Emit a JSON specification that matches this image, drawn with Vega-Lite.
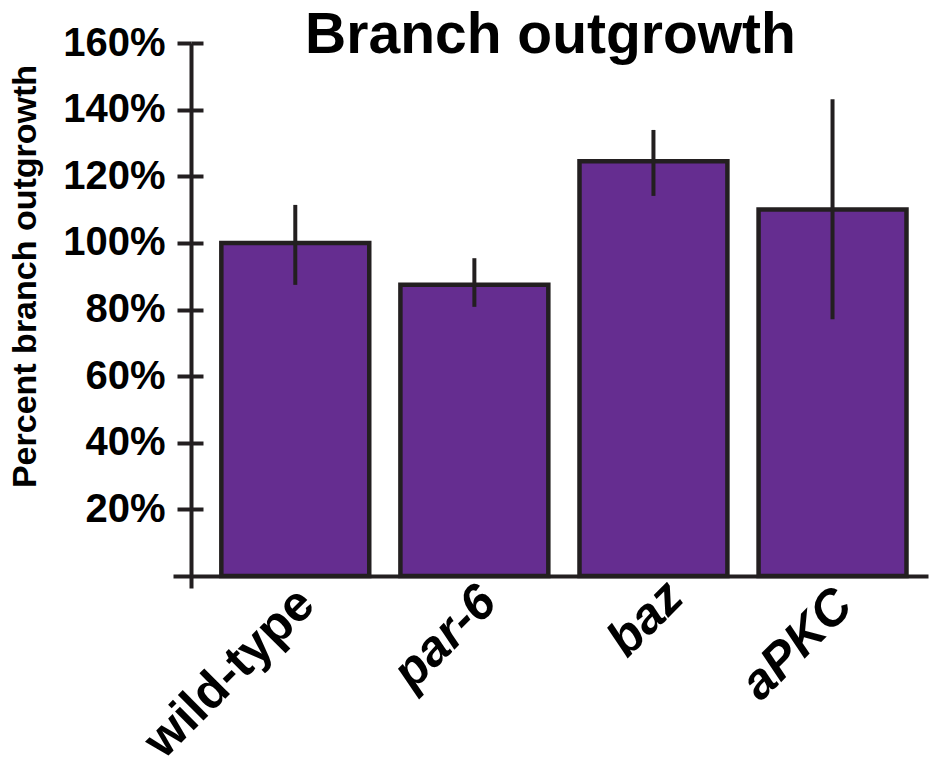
{
  "$schema": "https://vega.github.io/schema/vega-lite/v6.json",
  "autosize": {"type": "none"},
  "width": 755,
  "height": 545,
  "padding": {"left": 173, "top": 43, "right": 1, "bottom": 180},
  "background": "white",
  "title": {
    "text": "Branch outgrowth",
    "font": "Liberation Sans",
    "fontSize": 57,
    "fontWeight": "bold",
    "color": "#000000",
    "anchor": "middle",
    "frame": "group",
    "offset": -42
  },
  "data": {
    "values": [
      {"genotype": "wild-type", "mean": 100, "lo": 87.4, "hi": 111.4},
      {"genotype": "par-6", "mean": 87.4, "lo": 80.8, "hi": 95.4},
      {"genotype": "baz", "mean": 124.5, "lo": 114.1, "hi": 133.9},
      {"genotype": "aPKC", "mean": 110.0, "lo": 77.1, "hi": 143.1}
    ]
  },
  "config": {"view": {"stroke": null}},
  "layer": [
    {
      "mark": {"type": "bar", "fill": "#652d90", "stroke": "#231f20", "strokeWidth": 4.5},
      "encoding": {
        "x": {
          "field": "genotype",
          "type": "nominal",
          "sort": null,
          "scale": {"paddingInner": 0.174, "paddingOuter": 0.195, "align": 0.692},
          "axis": {
            "title": null,
            "orient": "bottom",
            "offset": -12,
            "domain": true,
            "domainColor": "#231f20",
            "domainWidth": 4,
            "ticks": false,
            "tickSize": 0,
            "labelAngle": -45,
            "labelAlign": "right",
            "labelBaseline": "middle",
            "labelFont": "Liberation Sans",
            "labelFontSize": 50,
            "labelFontWeight": "bold",
            "labelFontStyle": {"expr": "datum.value == 'wild-type' ? 'normal' : 'italic'"},
            "labelColor": "#000000",
            "labelPadding": {"expr": "datum.value == 'wild-type' ? 20 : datum.value == 'baz' ? 13 : datum.value == 'aPKC' ? 21 : 18"},
            "labelOffset": {"expr": "datum.value == 'wild-type' ? 11 : datum.value == 'baz' ? 22 : datum.value == 'aPKC' ? 12 : 14"},
            "labelLimit": 0,
            "labelOverlap": false
          }
        },
        "y": {
          "field": "mean",
          "type": "quantitative",
          "scale": {"domain": [-3.6, 160], "nice": false, "zero": false},
          "axis": {
            "orient": "left",
            "offset": -18,
            "values": [20, 40, 60, 80, 100, 120, 140, 160],
            "labelExpr": "datum.value + '%'",
            "grid": false,
            "domain": true,
            "domainColor": "#231f20",
            "domainWidth": 4,
            "ticks": true,
            "tickColor": "#231f20",
            "tickWidth": 4,
            "tickSize": 14,
            "labelFont": "Liberation Sans",
            "labelFontSize": 40,
            "labelFontWeight": "bold",
            "labelColor": "#000000",
            "labelPadding": 12,
            "title": "Percent branch outgrowth",
            "titleFont": "Liberation Sans",
            "titleFontSize": 34,
            "titleFontWeight": "bold",
            "titleColor": "#000000",
            "titlePadding": 20,
            "titleY": 233
          }
        },
        "y2": {"datum": 0}
      }
    },
    {
      "mark": {"type": "rule", "stroke": "#231f20", "strokeWidth": 4},
      "encoding": {
        "x": {"field": "genotype", "type": "nominal", "sort": null},
        "y": {
          "field": "lo",
          "type": "quantitative",
          "axis": {
            "orient": "left",
            "offset": -30,
            "values": [20, 40, 60, 80, 100, 120, 140, 160],
            "grid": false,
            "domain": false,
            "labels": false,
            "title": null,
            "ticks": true,
            "tickColor": "#231f20",
            "tickWidth": 4,
            "tickSize": 12
          }
        },
        "y2": {"field": "hi"}
      }
    }
  ],
  "resolve": {"axis": {"y": "independent"}}
}
